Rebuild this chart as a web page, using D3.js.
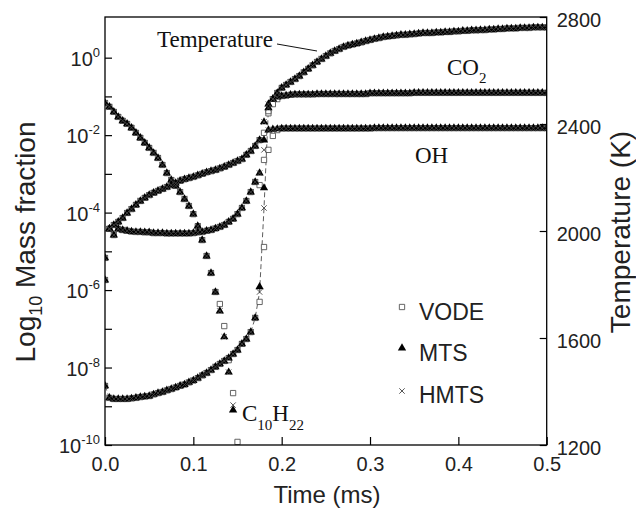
<!DOCTYPE html>
<html><head><meta charset="utf-8">
<script src="https://cdn.jsdelivr.net/npm/d3@7"></script>
<style>body{margin:0;background:#fff}</style>
</head><body>
<svg id="chart" width="636" height="509"></svg>
<script>
// ---------- DATA ----------
const timeMs = [0,0.005,0.01,0.015,0.02,0.025,0.03,0.035,0.04,0.045,0.05,0.055,0.06,0.065,0.07,0.075,0.08,0.085,0.09,0.095,0.1,0.105,0.11,0.115,0.12,0.125,0.13,0.135,0.14,0.145,0.15,0.155,0.16,0.165,0.17,0.175,0.18,0.185,0.19,0.195,0.2,0.205,0.21,0.215,0.22,0.225,0.23,0.235,0.24,0.245,0.25,0.255,0.26,0.265,0.27,0.275,0.28,0.285,0.29,0.295,0.3,0.305,0.31,0.315,0.32,0.325,0.33,0.335,0.34,0.345,0.35,0.355,0.36,0.365,0.37,0.375,0.38,0.385,0.39,0.395,0.4,0.405,0.41,0.415,0.42,0.425,0.43,0.435,0.44,0.445,0.45,0.455,0.46,0.465,0.47,0.475,0.48,0.485,0.49,0.495,0.5];

// log10 mass fractions (MTS solution)
const co2Log = [
 -5.74,-4.42,-4.32,-4.24,-4.14,-4.01,-3.91,-3.80,-3.70,-3.62,
 -3.55,-3.49,-3.44,-3.39,-3.34,-3.29,-3.24,-3.18,-3.14,-3.11,
 -3.08,-3.04,-3.00,-2.96,-2.93,-2.90,-2.86,-2.82,-2.77,-2.72,
 -2.67,-2.62,-2.51,-2.41,-2.28,-2.13,-1.66,-1.20,-1.07,-1.02,
 -0.99,-0.98,-0.96,-0.95,-0.95,-0.95,-0.95,-0.95,-0.94,-0.94,
 -0.94,-0.94,-0.94,-0.94,-0.94,-0.94,-0.94,-0.94,-0.94,-0.94,
 -0.92,-0.92,-0.92,-0.92,-0.92,-0.92,-0.92,-0.92,-0.92,-0.92,
 -0.91,-0.91,-0.91,-0.91,-0.91,-0.91,-0.91,-0.91,-0.91,-0.91,
 -0.91,-0.91,-0.91,-0.91,-0.91,-0.91,-0.91,-0.91,-0.91,-0.91,
 -0.91,-0.91,-0.91,-0.91,-0.91,-0.91,-0.91,-0.91,-0.91,-0.91,
 -0.91];
const ohLog = [
 -5.17,-4.42,-4.58,-4.42,-4.45,-4.47,-4.49,-4.50,-4.50,-4.51,
 -4.51,-4.53,-4.53,-4.53,-4.54,-4.54,-4.54,-4.54,-4.54,-4.54,
 -4.53,-4.51,-4.50,-4.47,-4.45,-4.41,-4.37,-4.32,-4.24,-4.16,
 -4.04,-3.88,-3.70,-3.47,-3.21,-2.98,-2.13,-1.87,-1.85,-1.84,
 -1.83,-1.83,-1.83,-1.83,-1.83,-1.83,-1.83,-1.83,-1.83,-1.83,
 -1.83,-1.83,-1.83,-1.83,-1.83,-1.83,-1.83,-1.83,-1.83,-1.83,
 -1.83,-1.82,-1.82,-1.82,-1.82,-1.82,-1.82,-1.82,-1.82,-1.82,
 -1.82,-1.82,-1.82,-1.82,-1.82,-1.82,-1.82,-1.82,-1.82,-1.82,
 -1.82,-1.82,-1.82,-1.82,-1.82,-1.82,-1.82,-1.82,-1.82,-1.82,
 -1.82,-1.82,-1.82,-1.82,-1.82,-1.82,-1.82,-1.82,-1.82,-1.82,
 -1.82];
const c10h22Log = [
 -1.17,-1.27,-1.40,-1.53,-1.63,-1.71,-1.81,-1.94,-2.07,-2.20,
 -2.33,-2.46,-2.59,-2.77,-2.98,-3.16,-3.31,-3.47,-3.65,-3.83,
 -4.04,-4.35,-4.71,-5.12,-5.56,-6.05,-6.54,-7.21,-8.12,-9.10];
// temperature (K), MTS solution
const temperatureK = [
 1421,1376,1372,1372,1372,1372,1374,1376,1379,1381,
 1383,1389,1394,1398,1404,1409,1415,1421,1426,1434,
 1441,1450,1460,1469,1480,1492,1503,1514,1525,1540,
 1555,1578,1596,1622,1675,1791,2161,2460,2493,2516,
 2535,2546,2557,2568,2579,2593,2606,2619,2632,2643,
 2654,2664,2673,2680,2688,2693,2697,2701,2705,2710,
 2714,2718,2721,2725,2727,2729,2731,2733,2733,2735,
 2736,2738,2740,2740,2740,2742,2742,2744,2744,2746,
 2746,2748,2748,2750,2750,2751,2751,2753,2753,2755,
 2755,2757,2757,2757,2759,2759,2759,2761,2761,2761,
 2761];
// points where the VODE / HMTS solutions differ visibly: [time, value]
const c10h22VODE = [[0.13,-6.36],[0.135,-6.93],[0.14,-7.81],[0.145,-8.66],[0.15,-9.92]];
const c10h22HMTS = [[0.145,-8.97]];
const co2VODE = [[0.18,-1.94],[0.185,-1.38],[0.19,-1.20],[0.195,-1.07]];
const ohVODE = [[0.175,-3.29],[0.18,-2.64],[0.185,-2.38],[0.19,-2.02],[0.195,-1.87]];
const ohHMTS = [[0.18,-2.38]];
const tempVODE = [[0.175,1735],[0.18,1940],[0.185,2440]];
const tempHMTS = [[0.175,1772],[0.18,2086]];

const xTicks = [0,0.1,0.2,0.3,0.4,0.5];
const yLogTicks = [-10,-9,-8,-7,-6,-5,-4,-3,-2,-1,0];
const yLogLabels = [-10,-8,-6,-4,-2,0];
const tTicks = [1200,1600,2000,2400,2800];
const methods = ["VODE","MTS","HMTS"];

// ---------- CHART ----------
const svg = d3.select("#chart");
const L = 105, R = 546.7, T = 17, B = 445;
const x = d3.scaleLinear().domain([0,0.5]).range([L,R]);
const y = d3.scaleLinear().domain([-10,1.05]).range([B,T]);
const yT = d3.scaleLinear().domain([1200,2800]).range([B,T]);
const sans = "'Liberation Sans', Arial, sans-serif";
const serif = "'Liberation Serif', 'Times New Roman', serif";

function build(base, overrides){
  const ov = new Map((overrides||[]).map(d=>[Math.round(d[0]*1000), d[1]]));
  const out = [];
  timeMs.forEach((t,i)=>{
    const k = Math.round(t*1000);
    const v = ov.has(k) ? ov.get(k) : base[i];
    if (v !== undefined && v !== null) out.push({t, v});
  });
  return out;
}

const species = [
  {base: temperatureK, sc: yT, ov: {VODE: tempVODE, HMTS: tempHMTS}},
  {base: co2Log, sc: y, ov: {VODE: co2VODE}},
  {base: ohLog, sc: y, ov: {VODE: ohVODE, HMTS: ohHMTS}},
  {base: c10h22Log, sc: y, ov: {VODE: c10h22VODE, HMTS: c10h22HMTS}}
];

svg.append("defs").append("clipPath").attr("id","clip")
  .append("rect").attr("x",L).attr("y",T).attr("width",R-L).attr("height",B-T);

const plot = svg.append("g").attr("clip-path","url(#clip)");
const triPath = d3.symbol(d3.symbolTriangle).size(30)();
const sqPath = d3.symbol(d3.symbolSquare).size(28)();
const xPath = "M-2.7,-2.7L2.7,2.7M-2.7,2.7L2.7,-2.7";

function drawMarker(g, m){
  if (m === "VODE") g.append("path").attr("d", sqPath).attr("fill","#fff").attr("stroke","#555").attr("stroke-width",0.9);
  else if (m === "MTS") g.append("path").attr("d", triPath).attr("fill","#000");
  else g.append("path").attr("d", xPath).attr("fill","none").attr("stroke","#444").attr("stroke-width",0.9);
}

// thin dashed connecting line of the HMTS temperature (visible only across the ignition jump)
plot.append("path").datum(build(temperatureK, tempHMTS))
  .attr("d", d3.line().x(d=>x(d.t)).y(d=>yT(d.v)))
  .attr("fill","none").attr("stroke","#333").attr("stroke-width",0.8).attr("stroke-dasharray","5,3");

// markers, VODE first, then MTS, then HMTS
methods.forEach(m=>{
  species.forEach(sp=>{
    const pts = build(sp.base, sp.ov[m]);
    plot.selectAll(null).data(pts).enter().append("g")
      .attr("transform", d=>`translate(${x(d.t)},${sp.sc(d.v)})`)
      .each(function(){ drawMarker(d3.select(this), m); });
  });
});

// frame
svg.append("rect").attr("x",L).attr("y",T).attr("width",R-L).attr("height",B-T)
  .attr("fill","none").attr("stroke","#000").attr("stroke-width",1.3);

// bottom axis
const ax = svg.append("g").attr("transform",`translate(0,${B})`)
  .call(d3.axisBottom(x).tickValues(xTicks).tickSize(-8).tickPadding(12).tickFormat(d3.format(".1f")));
ax.select(".domain").remove();
ax.selectAll("line").attr("stroke","#000").attr("stroke-width",1.2);
ax.selectAll("text").attr("font-family",sans).attr("font-size",20).attr("fill","#222");

// left axis
const ay = svg.append("g").attr("transform",`translate(${L},0)`)
  .call(d3.axisLeft(y).tickValues(yLogTicks).tickSize(-7).tickFormat(""));
ay.select(".domain").remove();
ay.selectAll("line").attr("stroke","#000").attr("stroke-width",1.2);
const yl = svg.append("g");
yLogLabels.forEach(e=>{
  const t = yl.append("text").attr("x",100).attr("y",y(e)+8).attr("text-anchor","end")
    .attr("font-family",sans).attr("font-size",20).attr("fill","#222");
  t.append("tspan").text("10");
  t.append("tspan").attr("dy",-9).attr("font-size",13).text(String(e));
});

// right axis
const ar = svg.append("g").attr("transform",`translate(${R},0)`)
  .call(d3.axisRight(yT).tickValues(tTicks).tickSize(-7).tickPadding(10).tickFormat(d3.format("d")));
ar.select(".domain").remove();
ar.selectAll("line").attr("stroke","#000").attr("stroke-width",1.2);
ar.selectAll("text").attr("font-family",sans).attr("font-size",20).attr("fill","#222").attr("dy","0.45em");

// axis titles
svg.append("text").attr("x",327).attr("y",503).attr("text-anchor","middle")
  .attr("font-family",sans).attr("font-size",24).attr("fill","#222").text("Time (ms)");
const lt = svg.append("text").attr("transform","translate(35,242) rotate(-90)").attr("text-anchor","middle")
  .attr("font-family",sans).attr("font-size",28).attr("fill","#222");
lt.append("tspan").text("Log");
lt.append("tspan").attr("dy",7).attr("font-size",18).text("10");
lt.append("tspan").attr("dy",-7).text(" Mass fraction");
svg.append("text").attr("transform","translate(630,232) rotate(-90)").attr("text-anchor","middle")
  .attr("font-family",sans).attr("font-size",28).attr("fill","#222").text("Temperature (K)");

// annotations
svg.append("text").attr("x",157).attr("y",47).attr("font-family",serif).attr("font-size",23).attr("fill","#111").text("Temperature");
svg.append("line").attr("x1",277).attr("y1",44).attr("x2",317).attr("y2",51).attr("stroke","#111").attr("stroke-width",1);
const co = svg.append("text").attr("x",447).attr("y",75).attr("font-family",serif).attr("font-size",23).attr("fill","#111");
co.append("tspan").text("CO"); co.append("tspan").attr("dy",8).attr("font-size",15).text("2");
svg.append("text").attr("x",415).attr("y",163).attr("font-family",serif).attr("font-size",23).attr("fill","#111").text("OH");
const dc = svg.append("text").attr("x",242).attr("y",421).attr("font-family",serif).attr("font-size",23).attr("fill","#111");
dc.append("tspan").text("C"); dc.append("tspan").attr("dy",9).attr("font-size",15).text("10");
dc.append("tspan").attr("dy",-9).text("H"); dc.append("tspan").attr("dy",9).attr("font-size",15).text("22");

// legend
const lg = svg.append("g");
const legY = [307,348,391], legBase = [320,361,403];
methods.forEach((m,i)=>{
  const g = lg.append("g").attr("transform",`translate(402,${legY[i]})`);
  drawMarker(g, m);
  lg.append("text").attr("x",419).attr("y",legBase[i]).attr("font-family",sans).attr("font-size",23).attr("fill","#222").text(m);
});
</script>
</body></html>
